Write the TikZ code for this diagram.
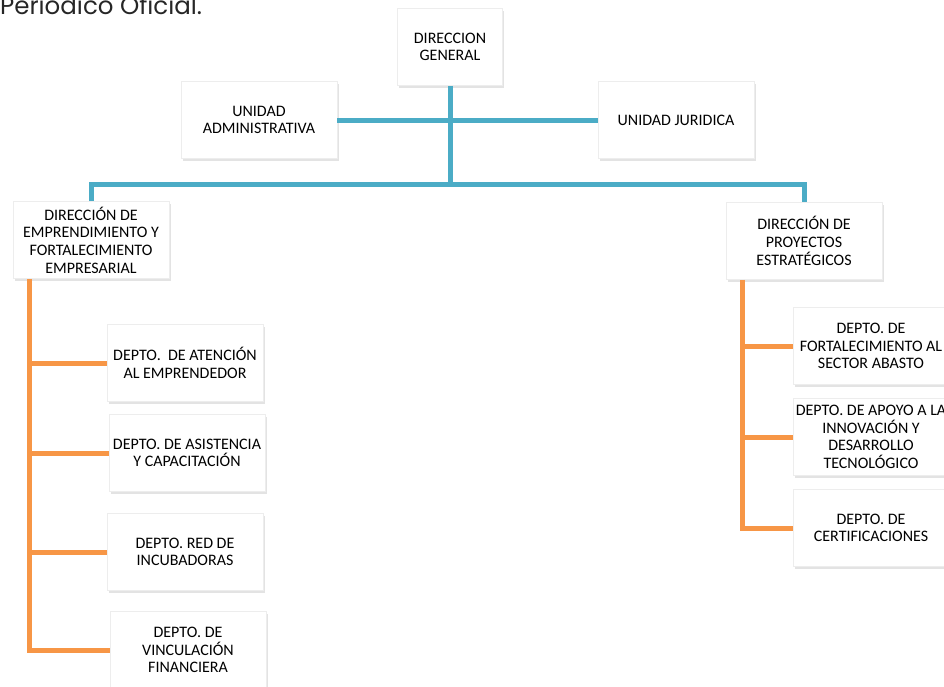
\documentclass[tikz,border=0pt]{standalone}
\usepackage{fontspec}
\setmainfont{Carlito}
\newfontfamily\titlefont{Poppins}
\usetikzlibrary{shadows}
\definecolor{orgblue}{HTML}{4BACC6}
\definecolor{orgorange}{HTML}{F79646}
\begin{document}
\begin{tikzpicture}[
    x=1pt,y=-1pt,
    box/.style={
      fill=white,draw=black!7,line width=0.6pt,
      minimum width=156pt,minimum height=77pt,inner sep=1pt,
      align=center,font=\fontsize{16}{17.7}\selectfont,
      drop shadow={shadow xshift=1.5pt,shadow yshift=-2.5pt,opacity=0.22}
    },
    blueline/.style={draw=orgblue,line width=5pt},
    orangeline/.style={draw=orgorange,line width=5pt},
  ]
  \useasboundingbox (0,0) rectangle (944,686);
  \node[font=\titlefont\fontsize{24.5}{28}\selectfont,anchor=base west,inner sep=0pt,text=black!85] (title) at (0,14) {Periódico Oficial.};
  \node[box,minimum width=105pt] (dg) at (450,47) {DIRECCION\\GENERAL};
  \node[box] (ua) at (259,120) {UNIDAD\\ADMINISTRATIVA};
  \node[box] (uj) at (676,120) {UNIDAD JURIDICA};
  \node[box] (def) at (91,240) {DIRECCIÓN DE\\EMPRENDIMIENTO Y\\FORTALECIMIENTO\\EMPRESARIAL};
  \node[box] (dpe) at (804,241) {DIRECCIÓN DE\\PROYECTOS\\ESTRATÉGICOS};
  \node[box] (at) at (185,363) {DEPTO.\ \ DE ATENCIÓN\\AL EMPRENDEDOR};
  \node[box] (as) at (187,453) {DEPTO. DE ASISTENCIA\\Y CAPACITACIÓN};
  \node[box] (inc) at (185,552) {DEPTO. RED DE\\INCUBADORAS};
  \node[box] (vf) at (188,650) {DEPTO. DE\\VINCULACIÓN\\FINANCIERA};
  \node[box] (fsa) at (871,346) {DEPTO. DE\\FORTALECIMIENTO AL\\SECTOR ABASTO};
  \node[box] (ait) at (871,437) {DEPTO. DE APOYO A LA\\INNOVACIÓN Y\\DESARROLLO\\TECNOLÓGICO};
  \node[box] (cer) at (871,528) {DEPTO. DE\\CERTIFICACIONES};
  % blue connectors
  \coordinate (bus) at (450,184);
  \draw[blueline] (ua.east) -- (uj.west);
  \draw[blueline] (dg.south) -- (bus);
  \draw[blueline] (def.north) |- (bus) -| (dpe.north);
  % orange connectors
  \coordinate (ltop) at ([xshift=-62pt]def.south);
  \coordinate (rtop) at ([xshift=-62pt]dpe.south);
  \draw[orangeline] (ltop) |- (vf.west);
  \foreach \d in {at,as,inc}
    \draw[orangeline] (ltop |- \d.west) -- (\d.west);
  \draw[orangeline] (rtop) |- (cer.west);
  \foreach \d in {fsa,ait}
    \draw[orangeline] (rtop |- \d.west) -- (\d.west);
\end{tikzpicture}
\end{document}
